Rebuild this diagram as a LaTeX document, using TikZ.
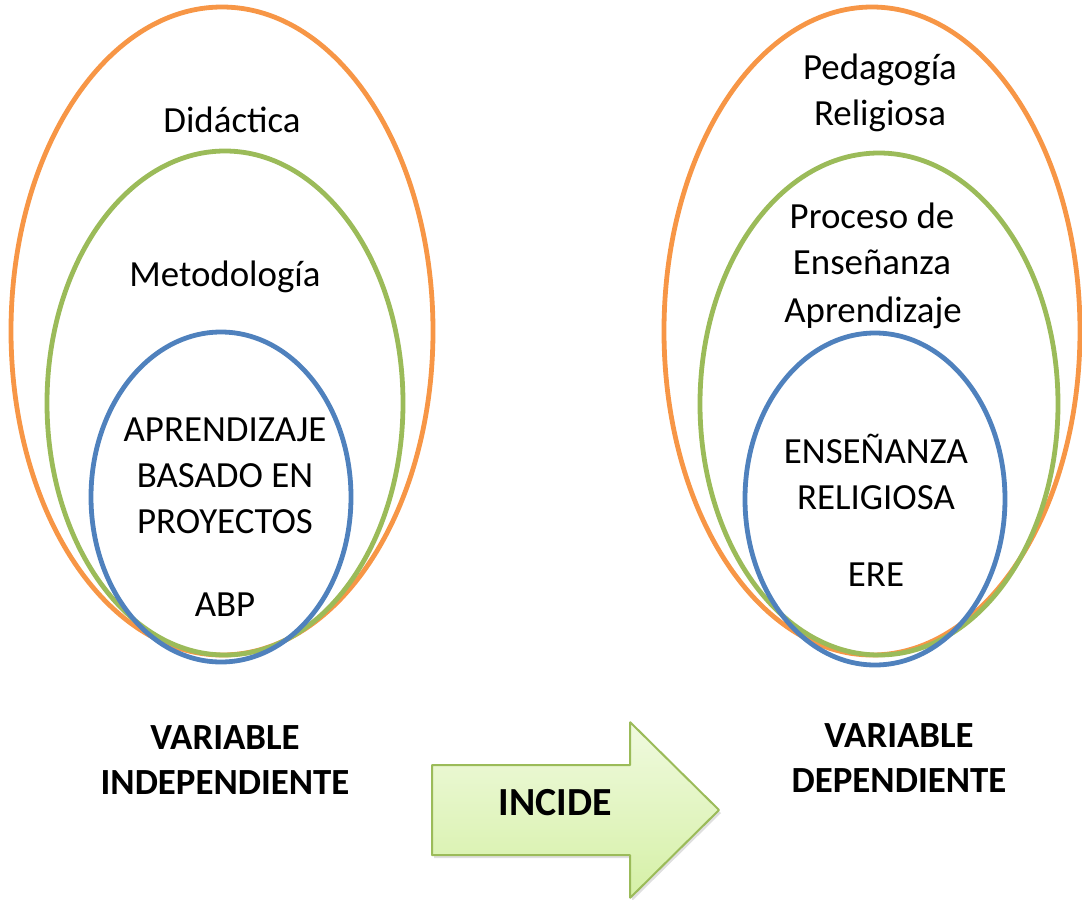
\documentclass[tikz,border=0pt]{standalone}
\usepackage{fontspec}
\setmainfont{Carlito}
\usetikzlibrary{shadows}
\definecolor{ringorange}{HTML}{F79646}
\definecolor{ringgreen}{HTML}{9BBB59}
\definecolor{ringblue}{HTML}{4F81BD}
\definecolor{arrowtop}{HTML}{F0FADF}
\definecolor{arrowbot}{HTML}{D5F0A6}
\tikzset{
  lbl/.style={draw=none,align=center,inner sep=0pt,font=\fontsize{18.5}{23}\selectfont},
  varlbl/.style={lbl,font=\fontsize{18.5}{23}\selectfont\bfseries},
  ring/.style={line width=2.4bp},
}
\begin{document}
\begin{tikzpicture}[x=0.5bp,y=-0.5bp,line join=bevel,]
\useasboundingbox (0,0) rectangle (1082,900);
%%
\draw [ring,ringorange] (222,331) ellipse (211 and 324);
  \draw [ring,ringgreen] (225,403) ellipse (178 and 252);
  \draw [ring,ringblue] (221,497) ellipse (130 and 165);
  \draw [ring,ringorange] (872,331) ellipse (208 and 324);
  \draw [ring,ringgreen] (879,404) ellipse (179 and 251);
  \draw [ring,ringblue] (875,499) ellipse (130 and 166);
%%
\node (node_did) at (232,120) [lbl] {Didáctica};
  \node (node_met) at (225,277) [lbl] {Metodología};
  \node (node_abp) at (225,476) [lbl] {APRENDIZAJE\\BASADO EN\\PROYECTOS};
  \node (node_sig) at (225,605) [lbl] {ABP};
  \node (node_ped) at (880,93) [lbl] {Pedagogía\\Religiosa};
  \node (node_pro) at (872,239) [lbl] {Proceso de\\Enseñanza};
  \node (node_apr) at (873,313) [lbl] {Aprendizaje};
  \node (node_ere) at (876,472) [lbl] {ENSEÑANZA\\RELIGIOSA};
  \node (node_sig2) at (876,575) [lbl] {ERE};
  \node (node_vi) at (225,760) [varlbl] {VARIABLE\\INDEPENDIENTE};
  \node (node_vd) at (899,758) [varlbl] {VARIABLE\\DEPENDIENTE};
%%
\draw [ringgreen,line width=1bp,top color=arrowtop,bottom color=arrowbot,drop shadow={opacity=0.25,shadow xshift=1bp,shadow yshift=-1.5bp}]
  (432,765) -- (630,765) -- (630,722) -- (719,810) -- (630,898) -- (630,855) -- (432,855) -- cycle;
  \node (node_inc) at (555,803) [lbl,font=\fontsize{20}{24}\selectfont\bfseries] {INCIDE};
%
\end{tikzpicture}
\end{document}
